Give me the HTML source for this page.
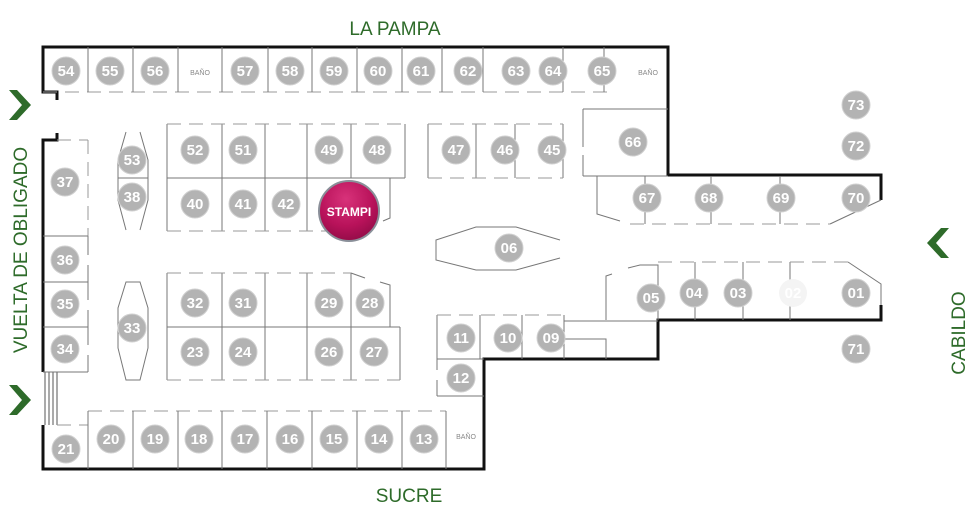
<!DOCTYPE html>
<html><head><meta charset="utf-8"><style>
html,body{margin:0;padding:0;background:#fff;}
svg{display:block;}
.c{fill:#b3b3b3;stroke:#d0d0d0;stroke-width:1}
.n{fill:#fff;font-family:"Liberation Sans",sans-serif;font-size:15px;font-weight:bold;text-anchor:middle;}
.t{stroke:#777;stroke-width:1;fill:none}
.d{stroke:#999;stroke-width:1;fill:none;stroke-dasharray:14,8}
.w{stroke:#111;stroke-width:3;fill:none}
.g{fill:#2e6b2a;font-family:"Liberation Sans",sans-serif;font-size:19px;}
</style></head><body>
<svg width="978" height="523" viewBox="0 0 978 523" xmlns="http://www.w3.org/2000/svg">
<text class="g" x="395" y="35" text-anchor="middle">LA PAMPA</text>
<text class="g" x="409" y="502" text-anchor="middle">SUCRE</text>
<text class="g" transform="translate(27,250) rotate(-90)" text-anchor="middle">VUELTA DE OBLIGADO</text>
<text class="g" transform="translate(965,333) rotate(-90)" text-anchor="middle">CABILDO</text>
<polygon points="9,90 17,90 31,105 17,120 9,120 22,105" fill="#2e6b2a"/>
<polygon points="9,385 17,385 31,400 17,415 9,415 22,400" fill="#2e6b2a"/>
<polygon points="949,228 941,228 927,243 941,258 949,258 936,243" fill="#2e6b2a"/>

<polyline class="w" points="57,100 57,92 43,92 43,47 668,47 668,175 881,175 881,200"/>
<polyline class="w" points="57,133 57,140 43,140 43,372"/>
<polyline class="w" points="43,425 43,469 484,469 484,359 658,359 658,320 881,320 881,305"/>
<g stroke="#555" stroke-width="1"><line x1="45" y1="372" x2="45" y2="425"/><line x1="49" y1="372" x2="49" y2="425"/><line x1="53" y1="372" x2="53" y2="425"/><line x1="57" y1="372" x2="57" y2="425"/></g>

<line class="d" x1="43" y1="92" x2="612" y2="92"/>
<g class="t"><line x1="88" y1="47" x2="88" y2="92"/><line x1="133" y1="47" x2="133" y2="92"/><line x1="178" y1="47" x2="178" y2="92"/><line x1="222" y1="47" x2="222" y2="92"/><line x1="268" y1="47" x2="268" y2="92"/><line x1="312" y1="47" x2="312" y2="92"/><line x1="357" y1="47" x2="357" y2="92"/><line x1="402" y1="47" x2="402" y2="92"/><line x1="442" y1="47" x2="442" y2="92"/><line x1="483" y1="47" x2="483" y2="92"/><line x1="563" y1="47" x2="563" y2="92"/><line x1="604" y1="47" x2="604" y2="92"/></g>
<text x="200" y="75" font-size="7" fill="#888" text-anchor="middle" font-family="Liberation Sans">BAÑO</text>
<text x="648" y="75" font-size="7" fill="#888" text-anchor="middle" font-family="Liberation Sans">BAÑO</text>

<line class="d" x1="88" y1="140" x2="88" y2="236" stroke-dasharray="4,3"/>
<line class="d" x1="57" y1="140" x2="88" y2="140" stroke-dasharray="4,3"/>
<g class="t"><line x1="43" y1="236" x2="88" y2="236"/><line x1="43" y1="282" x2="88" y2="282"/><line x1="43" y1="327" x2="88" y2="327"/><line x1="43" y1="372" x2="88" y2="372"/><line x1="88" y1="236" x2="88" y2="255"/><line x1="88" y1="265" x2="88" y2="300"/><line x1="88" y1="310" x2="88" y2="345"/><line x1="88" y1="355" x2="88" y2="372"/></g>

<g class="t"><polyline points="126,132 118,160 118,200 126,230"/><polyline points="140,132 148,160 148,200 140,230"/><line x1="118" y1="178" x2="148" y2="178"/>
<polygon points="126,282 140,282 148,308 148,348 140,380 126,380 118,348 118,308"/></g>

<g class="t"><polyline points="167,124 167,231"/><line x1="167" y1="178" x2="405" y2="178"/><polyline points="405,124 405,178"/><polyline points="390,178 390,218 383,221"/>
<line x1="222" y1="124" x2="222" y2="231"/><line x1="265" y1="124" x2="265" y2="231"/><line x1="307" y1="124" x2="307" y2="231"/><line x1="351" y1="124" x2="351" y2="178"/></g>
<line class="d" x1="167" y1="124" x2="405" y2="124"/><line class="d" x1="167" y1="231" x2="330" y2="231"/>

<g class="t"><line x1="428" y1="124" x2="428" y2="178"/><line x1="476" y1="124" x2="476" y2="178"/><line x1="515" y1="124" x2="515" y2="178"/><line x1="563" y1="124" x2="563" y2="178"/></g>
<line class="d" x1="428" y1="124" x2="563" y2="124"/><line class="d" x1="428" y1="178" x2="563" y2="178"/>

<g class="t"><line x1="583" y1="109" x2="668" y2="109"/><line x1="583" y1="109" x2="583" y2="147"/><line x1="583" y1="155" x2="583" y2="176"/><line x1="583" y1="176" x2="668" y2="176"/>
<polyline points="597,176 597,214 620,221"/><line x1="645" y1="176" x2="645" y2="224"/><line x1="711" y1="176" x2="711" y2="224"/><line x1="780" y1="176" x2="780" y2="224"/><polyline points="830,224 881,200"/></g>
<line class="d" x1="630" y1="224" x2="830" y2="224"/>

<g class="t"><polyline points="560,240 516,227 476,227 436,240 436,260 476,270 516,270 560,258"/></g>

<g class="t"><polyline points="606,320 606,276 612,274"/><polyline points="628,268 640,265 658,265 658,320"/><line x1="695" y1="262" x2="695" y2="320"/><line x1="743" y1="262" x2="743" y2="320"/><line x1="790" y1="262" x2="790" y2="320"/><polyline points="848,262 881,284 881,305"/>
<line x1="564" y1="321" x2="658" y2="321"/><polyline points="564,339 606,339 606,359"/></g>
<line class="d" x1="658" y1="262" x2="848" y2="262"/>

<g class="t"><line x1="437" y1="315" x2="437" y2="359"/><line x1="480" y1="315" x2="480" y2="359"/><line x1="522" y1="315" x2="522" y2="359"/><line x1="564" y1="315" x2="564" y2="359"/><line x1="437" y1="359" x2="484" y2="359"/><line x1="437" y1="359" x2="437" y2="370"/><line x1="437" y1="380" x2="437" y2="396"/><line x1="437" y1="396" x2="484" y2="396"/></g>
<line class="d" x1="437" y1="315" x2="564" y2="315"/>

<g class="t"><line x1="167" y1="273" x2="167" y2="380"/><line x1="167" y1="327" x2="400" y2="327"/><line x1="400" y1="327" x2="400" y2="380"/><polyline points="351,273 365,278"/><polyline points="380,282 390,285 390,327"/>
<line x1="222" y1="273" x2="222" y2="380"/><line x1="265" y1="273" x2="265" y2="380"/><line x1="307" y1="273" x2="307" y2="380"/><line x1="351" y1="273" x2="351" y2="380"/></g>
<line class="d" x1="167" y1="273" x2="351" y2="273"/><line class="d" x1="167" y1="380" x2="400" y2="380"/>

<line class="d" x1="57" y1="425" x2="88" y2="425" stroke-dasharray="6,4"/>
<line class="d" x1="88" y1="411" x2="446" y2="411"/>
<g class="t"><line x1="88" y1="411" x2="88" y2="469"/><line x1="133" y1="411" x2="133" y2="469"/><line x1="178" y1="411" x2="178" y2="469"/><line x1="222" y1="411" x2="222" y2="469"/><line x1="267" y1="411" x2="267" y2="469"/><line x1="312" y1="411" x2="312" y2="469"/><line x1="357" y1="411" x2="357" y2="469"/><line x1="402" y1="411" x2="402" y2="469"/><line x1="446" y1="411" x2="446" y2="469"/></g>
<text x="466" y="439" font-size="7" fill="#888" text-anchor="middle" font-family="Liberation Sans">BAÑO</text>

<circle class="c" cx="66" cy="71" r="14"/><text class="n" x="66" y="76">54</text>
<circle class="c" cx="110" cy="71" r="14"/><text class="n" x="110" y="76">55</text>
<circle class="c" cx="155" cy="71" r="14"/><text class="n" x="155" y="76">56</text>
<circle class="c" cx="245" cy="71" r="14"/><text class="n" x="245" y="76">57</text>
<circle class="c" cx="290" cy="71" r="14"/><text class="n" x="290" y="76">58</text>
<circle class="c" cx="334" cy="71" r="14"/><text class="n" x="334" y="76">59</text>
<circle class="c" cx="378" cy="71" r="14"/><text class="n" x="378" y="76">60</text>
<circle class="c" cx="421" cy="71" r="14"/><text class="n" x="421" y="76">61</text>
<circle class="c" cx="468" cy="71" r="14"/><text class="n" x="468" y="76">62</text>
<circle class="c" cx="516" cy="71" r="14"/><text class="n" x="516" y="76">63</text>
<circle class="c" cx="553" cy="71" r="14"/><text class="n" x="553" y="76">64</text>
<circle class="c" cx="602" cy="71" r="14"/><text class="n" x="602" y="76">65</text>
<circle class="c" cx="633" cy="142" r="14"/><text class="n" x="633" y="147">66</text>
<circle class="c" cx="856" cy="105" r="14"/><text class="n" x="856" y="110">73</text>
<circle class="c" cx="856" cy="146" r="14"/><text class="n" x="856" y="151">72</text>
<circle class="c" cx="195" cy="150" r="14"/><text class="n" x="195" y="155">52</text>
<circle class="c" cx="243" cy="150" r="14"/><text class="n" x="243" y="155">51</text>
<circle class="c" cx="329" cy="150" r="14"/><text class="n" x="329" y="155">49</text>
<circle class="c" cx="377" cy="150" r="14"/><text class="n" x="377" y="155">48</text>
<circle class="c" cx="456" cy="150" r="14"/><text class="n" x="456" y="155">47</text>
<circle class="c" cx="505" cy="150" r="14"/><text class="n" x="505" y="155">46</text>
<circle class="c" cx="552" cy="150" r="14"/><text class="n" x="552" y="155">45</text>
<circle class="c" cx="132" cy="160" r="14"/><text class="n" x="132" y="165">53</text>
<circle class="c" cx="132" cy="197" r="14"/><text class="n" x="132" y="202">38</text>
<circle class="c" cx="65" cy="182" r="14"/><text class="n" x="65" y="187">37</text>
<circle class="c" cx="195" cy="204" r="14"/><text class="n" x="195" y="209">40</text>
<circle class="c" cx="243" cy="204" r="14"/><text class="n" x="243" y="209">41</text>
<circle class="c" cx="286" cy="204" r="14"/><text class="n" x="286" y="209">42</text>
<circle class="c" cx="647" cy="198" r="14"/><text class="n" x="647" y="203">67</text>
<circle class="c" cx="709" cy="198" r="14"/><text class="n" x="709" y="203">68</text>
<circle class="c" cx="781" cy="198" r="14"/><text class="n" x="781" y="203">69</text>
<circle class="c" cx="856" cy="198" r="14"/><text class="n" x="856" y="203">70</text>
<circle class="c" cx="509" cy="248" r="14"/><text class="n" x="509" y="253">06</text>
<circle class="c" cx="65" cy="260" r="14"/><text class="n" x="65" y="265">36</text>
<circle class="c" cx="65" cy="304" r="14"/><text class="n" x="65" y="309">35</text>
<circle class="c" cx="65" cy="349" r="14"/><text class="n" x="65" y="354">34</text>
<circle class="c" cx="132" cy="328" r="14"/><text class="n" x="132" y="333">33</text>
<circle class="c" cx="195" cy="303" r="14"/><text class="n" x="195" y="308">32</text>
<circle class="c" cx="243" cy="303" r="14"/><text class="n" x="243" y="308">31</text>
<circle class="c" cx="329" cy="303" r="14"/><text class="n" x="329" y="308">29</text>
<circle class="c" cx="370" cy="303" r="14"/><text class="n" x="370" y="308">28</text>
<circle class="c" cx="195" cy="352" r="14"/><text class="n" x="195" y="357">23</text>
<circle class="c" cx="243" cy="352" r="14"/><text class="n" x="243" y="357">24</text>
<circle class="c" cx="329" cy="352" r="14"/><text class="n" x="329" y="357">26</text>
<circle class="c" cx="374" cy="352" r="14"/><text class="n" x="374" y="357">27</text>
<circle class="c" cx="651" cy="298" r="14"/><text class="n" x="651" y="303">05</text>
<circle class="c" cx="694" cy="293" r="14"/><text class="n" x="694" y="298">04</text>
<circle class="c" cx="738" cy="293" r="14"/><text class="n" x="738" y="298">03</text>
<circle cx="793" cy="293" r="14" fill="#f4f4f4"/><text class="n" x="793" y="298">02</text>
<circle class="c" cx="856" cy="293" r="14"/><text class="n" x="856" y="298">01</text>
<circle class="c" cx="856" cy="349" r="14"/><text class="n" x="856" y="354">71</text>
<circle class="c" cx="461" cy="338" r="14"/><text class="n" x="461" y="343">11</text>
<circle class="c" cx="508" cy="338" r="14"/><text class="n" x="508" y="343">10</text>
<circle class="c" cx="551" cy="338" r="14"/><text class="n" x="551" y="343">09</text>
<circle class="c" cx="461" cy="378" r="14"/><text class="n" x="461" y="383">12</text>
<circle class="c" cx="66" cy="449" r="14"/><text class="n" x="66" y="454">21</text>
<circle class="c" cx="111" cy="439" r="14"/><text class="n" x="111" y="444">20</text>
<circle class="c" cx="155" cy="439" r="14"/><text class="n" x="155" y="444">19</text>
<circle class="c" cx="199" cy="439" r="14"/><text class="n" x="199" y="444">18</text>
<circle class="c" cx="245" cy="439" r="14"/><text class="n" x="245" y="444">17</text>
<circle class="c" cx="290" cy="439" r="14"/><text class="n" x="290" y="444">16</text>
<circle class="c" cx="334" cy="439" r="14"/><text class="n" x="334" y="444">15</text>
<circle class="c" cx="379" cy="439" r="14"/><text class="n" x="379" y="444">14</text>
<circle class="c" cx="424" cy="439" r="14"/><text class="n" x="424" y="444">13</text>

<defs><radialGradient id="sg" cx="0.45" cy="0.3" r="0.75"><stop offset="0" stop-color="#d8327a"/><stop offset="0.6" stop-color="#b8125a"/><stop offset="1" stop-color="#8e0b45"/></radialGradient></defs>
<circle cx="349" cy="211" r="30" fill="url(#sg)" stroke="#8a8f99" stroke-width="2"/>
<text x="349" y="216" fill="#fff" font-family="Liberation Sans" font-weight="bold" font-size="12" text-anchor="middle">STAMPI</text>
</svg>
</body></html>
